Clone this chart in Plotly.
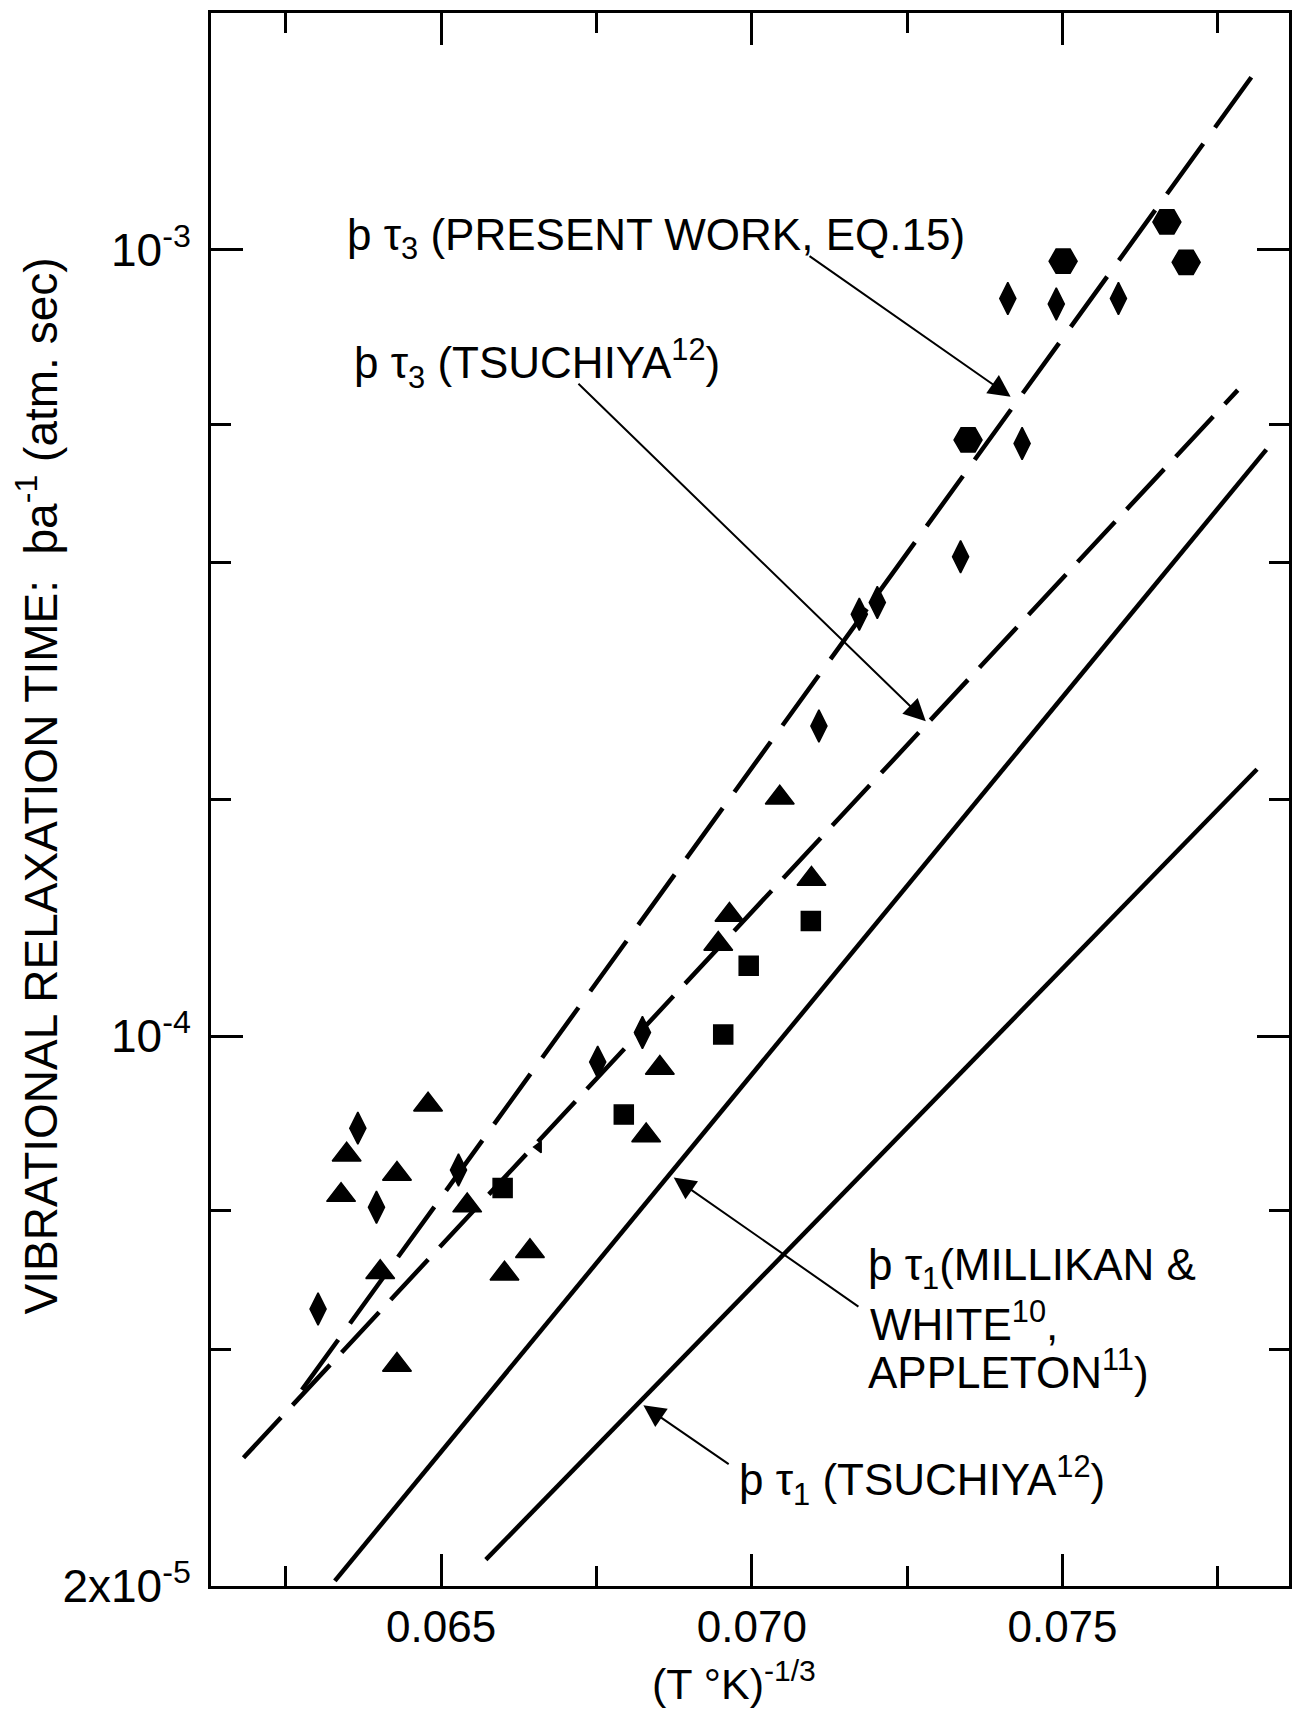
import plotly.graph_objects as go
import math

# ---------------- data ----------------
# straight reference lines (end points)
pt3_present_x = [0.06276, 0.07807]
pt3_present_y = [3.55e-5, 1.67e-3]
pt3_tsuchiya_x = [0.06182, 0.07782]
pt3_tsuchiya_y = [2.91e-5, 6.63e-4]
pt1_millikan_x = [0.06329, 0.07828]
pt1_millikan_y = [2.03e-5, 5.57e-4]
pt1_tsuchiya_x = [0.06572, 0.07813]
pt1_tsuchiya_y = [2.16e-5, 2.185e-4]

# measured points
hex_x = [0.07668, 0.07501, 0.07699, 0.07348]
hex_y = [1.085e-3, 9.67e-4, 9.64e-4, 5.73e-4]

dia_x = [0.07412, 0.07490, 0.07590, 0.07435, 0.07336, 0.07173, 0.07202,
         0.07108, 0.06824, 0.06752, 0.06366, 0.06396, 0.06528, 0.06302]
dia_y = [8.67e-4, 8.53e-4, 8.67e-4, 5.67e-4, 4.07e-4, 3.44e-4, 3.56e-4,
         2.48e-4, 1.011e-4, 9.27e-5, 7.64e-5, 6.06e-5, 6.76e-5, 4.50e-5]

tri_x = [0.07045, 0.07096, 0.06964, 0.06946, 0.06852, 0.06830, 0.06479,
         0.06348, 0.06429, 0.06339, 0.06542, 0.06402, 0.06602, 0.06643, 0.06429]
tri_y = [2.01e-4, 1.585e-4, 1.426e-4, 1.310e-4, 9.11e-5, 7.48e-5, 8.18e-5,
         7.07e-5, 6.68e-5, 6.28e-5, 6.09e-5, 5.01e-5, 4.99e-5, 5.33e-5, 3.82e-5]

sq_x = [0.07095, 0.06995, 0.06954, 0.06794, 0.06599]
sq_y = [1.401e-4, 1.229e-4, 1.005e-4, 7.95e-5, 6.41e-5]

partial_x = [0.06657]
partial_y = [7.23e-5]

# axes
x_range = [0.061297, 0.078645]
y_range = [2e-5, 2e-3]
x_tickvals = [0.065, 0.070, 0.075]
x_ticktext = ["0.065", "0.070", "0.075"]
x_minor = [0.0625, 0.0675, 0.0725, 0.0775]
y_tickvals = [2e-5, 1e-4, 1e-3]
y_ticktext = ["2x10<sup>-5</sup>", "10<sup>-4</sup>", "10<sup>-3</sup>"]
y_minor = [4e-5, 6e-5, 2e-4, 4e-4, 6e-4]

# ---------------- figure ----------------
FONT = "Liberation Sans, Arial, sans-serif"
W, H = 1295, 1710
L, R, T, B = 211, 3, 13, 124

fig = go.Figure()

def line(x, y, dash):
    fig.add_trace(go.Scatter(x=x, y=y, mode="lines",
                             line=dict(color="black", width=4.5, dash=dash),
                             hoverinfo="skip"))

line(pt3_present_x, pt3_present_y, "62px,20px")
line(pt3_tsuchiya_x, pt3_tsuchiya_y, "55px,17px")
line(pt1_millikan_x, pt1_millikan_y, "solid")
line(pt1_tsuchiya_x, pt1_tsuchiya_y, "solid")

def pts(x, y, symbol, size):
    fig.add_trace(go.Scatter(x=x, y=y, mode="markers",
                             marker=dict(symbol=symbol, size=size, color="black",
                                         line=dict(color="black", width=1.5))))

pts(hex_x, hex_y, "hexagon2", 28)
pts(dia_x, dia_y, "diamond-tall", 23)
pts(tri_x, tri_y, "triangle-up", 25)
pts(sq_x, sq_y, "square", 19)
pts(partial_x, partial_y, "triangle-left", 10)

def px(xp):
    return (xp - L) / (W - L - R)

def py(yp):
    return (H - B - yp) / (H - B - T)

tfont = dict(family=FONT, size=44, color="black")
labels = [
    ("þ τ<sub>3</sub> (PRESENT WORK, EQ.15)", 345, 238),
    ("þ τ<sub>3</sub> (TSUCHIYA<sup>12</sup>)", 352, 363),
    ("þ τ<sub>1</sub>(MILLIKAN &amp;", 868, 1268),
    ("WHITE<sup>10</sup>,", 870, 1321),
    ("APPLETON<sup>11</sup>)", 868, 1369),
    ("þ τ<sub>1</sub> (TSUCHIYA<sup>12</sup>)", 738, 1480),
]
for txt, xp, yp in labels:
    fig.add_annotation(text=txt, x=px(xp), y=py(yp), xref="paper", yref="paper",
                       xanchor="left", yanchor="middle", showarrow=False, font=tfont)

# arrows: (head x, head log10 y, tail x, tail log10 y)
arrows = [
    (0.074165, -3.1869, 0.070905, -3.0067),
    (0.072800, -3.5996, 0.067186, -3.1686),
    (0.068743, -4.1798, 0.071740, -4.3451),
    (0.068255, -4.4694, 0.069652, -4.5455),
]
for hx, hy, tx, ty in arrows:
    fig.add_annotation(x=hx, y=hy, ax=tx, ay=ty, xref="x", yref="y",
                       axref="x", ayref="y", text="", showarrow=True,
                       arrowhead=2, arrowsize=2.2, arrowwidth=2, arrowcolor="black",
                       standoff=0)

afont = dict(family=FONT, size=46, color="black")
fig.add_annotation(text="VIBRATIONAL RELAXATION TIME:  þa<sup>-1</sup> (atm. sec)",
                   x=px(37), y=py(786), xref="paper", yref="paper", textangle=-90,
                   showarrow=False, font=afont, xanchor="center", yanchor="middle")
fig.add_annotation(text="(T °K)<sup>-1/3</sup>", x=px(735), y=py(1709),
                   xref="paper", yref="paper", showarrow=False,
                   font=dict(family=FONT, size=43, color="black"),
                   xanchor="center", yanchor="bottom", borderpad=0)

axis_common = dict(showline=True, linewidth=3, linecolor="black", mirror="ticks",
                   ticks="inside", tickwidth=2.5, tickcolor="black", showgrid=False,
                   zeroline=False)

fig.update_xaxes(range=x_range, tickmode="array", tickvals=x_tickvals,
                 ticktext=x_ticktext, ticklen=32, ticklabelstandoff=0,
                 tickfont=dict(family=FONT, size=44, color="black"),
                 minor=dict(tickmode="array", tickvals=x_minor, ticklen=20,
                            ticks="inside", tickwidth=2.5, tickcolor="black"),
                 **axis_common)
fig.update_yaxes(type="log", range=[math.log10(y_range[0]) - 1e-4, math.log10(y_range[1])],
                 tickmode="array", tickvals=y_tickvals, ticktext=y_ticktext,
                 ticklen=32, ticklabelstandoff=8,
                 tickfont=dict(family=FONT, size=46, color="black"),
                 minor=dict(tickmode="array", tickvals=y_minor, ticklen=20,
                            ticks="inside", tickwidth=2.5, tickcolor="black"),
                 **axis_common)

fig.update_layout(width=W, height=H, margin=dict(l=L, r=R, t=T, b=B, pad=0),
                  plot_bgcolor="white", paper_bgcolor="white", showlegend=False,
                  font=dict(family=FONT, color="black"))

fig.write_html("out.html")
